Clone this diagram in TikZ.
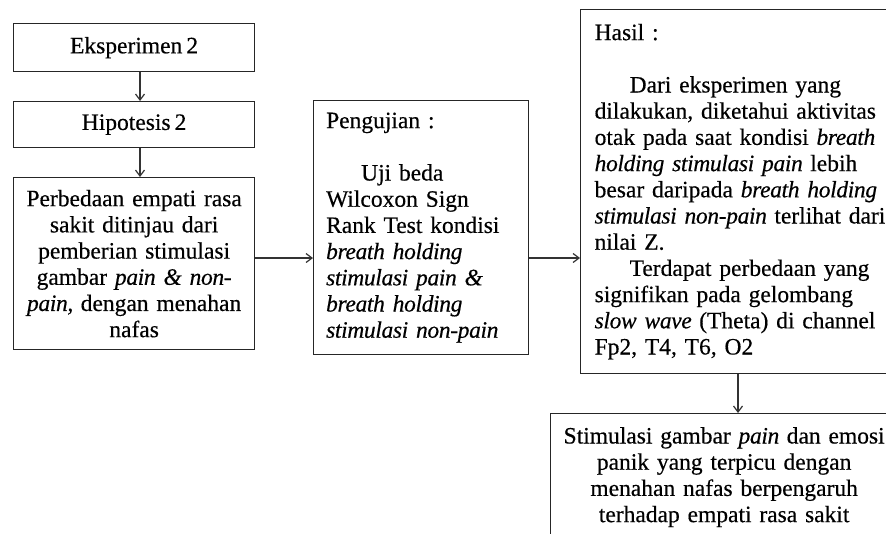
\documentclass[tikz,border=0pt]{standalone}
\usepackage{fontspec}
\setmainfont{Liberation Serif}[WordSpace=0.7,FakeBold=0.4,ItalicFeatures={LetterSpace=-1.5}]
\usetikzlibrary{arrows.meta,calc}
\begin{document}
\begin{tikzpicture}[x=1pt,y=-1pt,
  box/.style={draw=black!85, line width=1.3pt, inner xsep=0pt, inner ysep=0pt, anchor=north west,
    font=\fontsize{23.5}{26.2}\selectfont},
  link/.style={draw=black!80, line width=1.2pt, -{Straight Barb[length=6pt,width=9pt,line width=1.2pt]}}]
\useasboundingbox (0,0) rectangle (886,533);
\clip (0,0) rectangle (886,533);
\fill[white] (0,0) rectangle (886,533);
\node[box, minimum width=241pt, minimum height=48pt] (eks) at (13,23) {Eksperimen 2};
\node[box, minimum width=241pt, minimum height=46pt] (hip) at (13,101) {Hipotesis 2};
\node[box, text width=225pt, inner xsep=8pt, minimum height=172pt, align=center] (beda) at (13,177)
  {Perbedaan empati rasa\\ sakit ditinjau dari\\ pemberian stimulasi\\ gambar \textit{pain \& non-}\\ \textit{pain,} dengan menahan\\ nafas};
\node[box, text width=190pt, inner xsep=12.5pt, minimum height=254pt, align=left] (uji) at (313,100)
  {Pengujian :\\[26.2pt]
   \hspace*{35pt}Uji beda\\
   Wilcoxon Sign\\
   Rank Test kondisi\\
   \textit{breath holding}\\
   \textit{stimulasi pain \&}\\
   \textit{breath holding}\\
   \textit{stimulasi non-pain}};
\node[box, text width=300pt, inner xsep=14pt, minimum height=364pt, align=left] (hasil) at (580,9)
  {Hasil :\\[26.2pt]
   \hspace*{35pt}Dari eksperimen yang\\
   dilakukan, diketahui aktivitas\\
   otak pada saat kondisi \textit{breath}\\
   \textit{holding stimulasi pain} lebih\\
   besar daripada \textit{breath holding}\\
   \textit{stimulasi non-pain} terlihat dari\\
   nilai Z.\\
   \hspace*{35pt}Terdapat perbedaan yang\\
   signifikan pada gelombang\\
   \textit{slow wave} (Theta) di channel\\
   Fp2, T4, T6, O2};
\node[box, text width=331pt, inner xsep=8pt, minimum height=127pt, align=center] (simpul) at (550,413)
  {Stimulasi gambar \textit{pain} dan emosi\\
   panik yang terpicu dengan\\
   menahan nafas berpengaruh\\
   terhadap empati rasa sakit};
\coordinate (colA) at (140,0);
\coordinate (rowA) at (0,258);
\coordinate (colB) at (738,0);
\draw[link] (eks.south -| colA) -- (hip.north -| colA);
\draw[link] (hip.south -| colA) -- (beda.north -| colA);
\draw[link] (beda.east |- rowA) -- (uji.west |- rowA);
\draw[link] (uji.east |- rowA) -- (hasil.west |- rowA);
\draw[link] (hasil.south -| colB) -- (simpul.north -| colB);
\end{tikzpicture}
\end{document}
